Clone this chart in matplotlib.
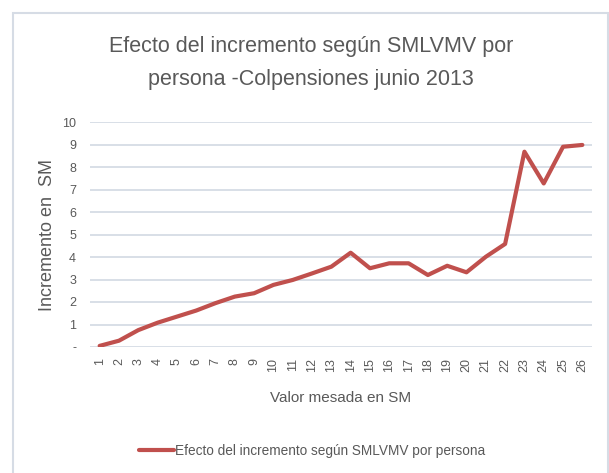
import matplotlib
matplotlib.use('Agg')
import matplotlib.pyplot as plt
from matplotlib import font_manager
import matplotlib.patches as patches

# datos
categorias = [str(i) for i in range(1, 27)]
incremento = [0.05, 0.28, 0.75, 1.08, 1.35, 1.62, 1.95, 2.24, 2.39, 2.76,
              2.98, 3.27, 3.57, 4.19, 3.50, 3.72, 3.72, 3.20, 3.61, 3.32,
              4.01, 4.58, 8.68, 7.27, 8.90, 8.98]
ticks_y = list(range(0, 11))
etiquetas_y = ['-'] + [str(i) for i in range(1, 11)]

titulo = 'Efecto del incremento según SMLVMV por\npersona -Colpensiones junio 2013'
nombre_serie = 'Efecto del incremento según SMLVMV por persona'

disponibles = {f.name for f in font_manager.fontManager.ttflist}
fuente = 'Liberation Sans Narrow' if 'Liberation Sans Narrow' in disponibles else 'Liberation Sans'
plt.rcParams['font.family'] = [fuente, 'DejaVu Sans']

gris = '#595959'
rojo = '#c0504d'
rejilla = '#d6dce5'

fig = plt.figure(figsize=(6.09, 4.73), dpi=100)
fig.patches.append(patches.Rectangle((13/609, -0.1), 595/609, 1 - 13/473 + 0.1,
                                     transform=fig.transFigure, fill=False,
                                     edgecolor=rejilla, lw=1.5))

ax = fig.add_axes([90/609, 1 - 347/473, 502/609, 225/473])
x = list(range(1, len(categorias) + 1))
ax.plot(x, incremento, color=rojo, lw=3, solid_capstyle='round',
        solid_joinstyle='round', label=nombre_serie)
ax.set_xlim(0.5, len(categorias) + 0.5)
ax.set_ylim(0, 10)
ax.set_xticks(x)
ax.set_xticklabels(categorias, rotation=90, fontsize=9, color=gris)
ax.set_yticks(ticks_y)
ax.set_yticklabels(etiquetas_y, fontsize=9, color=gris)
ax.tick_params(length=0)
ax.tick_params(axis='y', pad=10)
ax.tick_params(axis='x', pad=8)
ax.grid(axis='y', color=rejilla, lw=1.3)
ax.set_axisbelow(True)
for s in ax.spines.values():
    s.set_visible(False)

fig.text(48/609, 1 - 235/473, 'Incremento en  SM', fontsize=13, color=gris,
         ha='center', va='center', rotation=90)
fig.text(341/609, 1 - 398/473, 'Valor mesada en SM', fontsize=11, color=gris,
         ha='center', va='center')
fig.text(311/609, 1 - 63/473, titulo, fontsize=15.5, color=gris,
         ha='center', va='center', linespacing=1.7)

fig.legend(loc='center', bbox_to_anchor=(312/609, 1 - 451/473), frameon=False,
           fontsize=9.8, labelcolor=gris, handlelength=2.6, handletextpad=0.1)

fig.savefig('out.png', dpi=100)
